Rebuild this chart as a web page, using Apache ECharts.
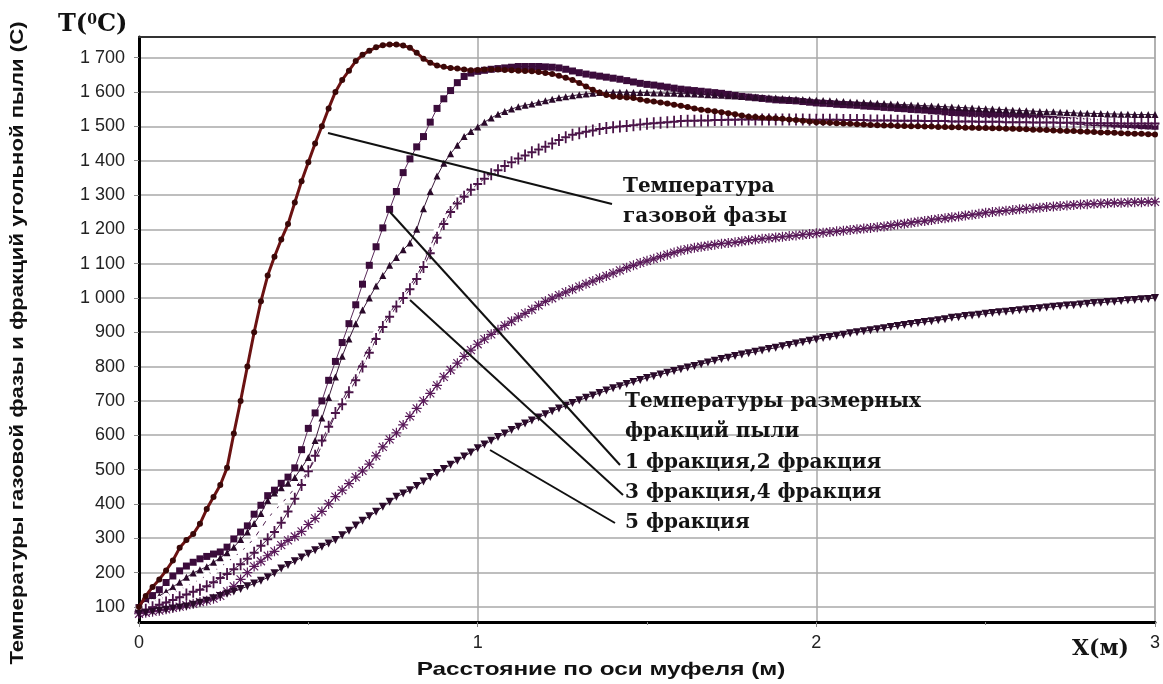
<!DOCTYPE html>
<html>
<head>
<meta charset="utf-8">
<script src="https://cdn.jsdelivr.net/npm/echarts@6/dist/echarts.min.js"></script>
<style>
html, body { margin: 0; padding: 0; background: #fff; }
#chart { width: 1163px; height: 684px; }
</style>
</head>
<body>
<div id="chart"></div>
<script>
// шаг по оси муфеля (м), точки от 0 до 3
var X_STEP = 0.02;
var xs = [];
for (var i = 0; i <= 150; i++) xs.push(+(i * X_STEP).toFixed(2));

var yTicks = [100, 200, 300, 400, 500, 600, 700, 800, 900, 1000, 1100, 1200, 1300, 1400, 1500, 1600, 1700];

// температура газовой фазы
var gasTemp = [
    100, 132, 158, 180, 206, 235, 272, 295, 312, 342,
    385, 420, 455, 505, 605, 700, 800, 900, 990, 1065,
    1120, 1170, 1215, 1278, 1340, 1395, 1450, 1500, 1552, 1600,
    1635, 1662, 1690, 1708, 1720, 1730, 1736, 1738, 1738, 1735,
    1729, 1714, 1697, 1685, 1677, 1673, 1670, 1668, 1665, 1663,
    1664, 1665, 1665, 1665, 1664, 1663, 1662, 1661, 1660, 1658,
    1655, 1652, 1647, 1641, 1635, 1626, 1616, 1606, 1598, 1591,
    1587, 1585, 1584, 1582, 1578, 1574, 1572, 1569, 1566, 1563,
    1560, 1556, 1552, 1548, 1546, 1544, 1541, 1538, 1535, 1531,
    1528, 1527, 1525, 1524, 1523, 1522, 1520, 1518, 1516, 1514,
    1512, 1511, 1510, 1509, 1508, 1507, 1506, 1505, 1504, 1503,
    1502, 1502, 1501, 1501, 1500, 1500, 1499, 1499, 1498, 1498,
    1497, 1497, 1496, 1496, 1495, 1495, 1494, 1494, 1493, 1493,
    1492, 1491, 1490, 1490, 1489, 1488, 1487, 1486, 1486, 1485,
    1484, 1483, 1482, 1482, 1481, 1480, 1479, 1478, 1478, 1477,
    1476
];
// фракция 1 (квадраты)
var frac1 = [
    98, 117, 133, 150, 171, 190, 205, 219, 230, 240,
    247, 254, 260, 274, 298, 318, 336, 370, 396, 424,
    440, 460, 478, 505, 558, 620, 665, 700, 760, 815,
    870, 925, 980, 1040, 1095, 1149, 1204, 1258, 1310, 1365,
    1405, 1440, 1470, 1512, 1552, 1580, 1604, 1627, 1645, 1655,
    1660, 1663, 1666, 1668, 1670, 1672, 1674, 1674, 1674, 1674,
    1673, 1672, 1670, 1666, 1661, 1656, 1652, 1649, 1646, 1643,
    1640, 1637, 1633, 1629, 1625, 1622, 1620, 1617, 1614, 1611,
    1608, 1606, 1604, 1602, 1600, 1598, 1596, 1593, 1590, 1587,
    1585, 1583, 1581, 1579, 1577, 1576, 1575, 1574, 1572, 1570,
    1568, 1567, 1566, 1564, 1563, 1562, 1561, 1559, 1558, 1557,
    1555, 1554, 1552, 1551, 1549, 1548, 1547, 1545, 1544, 1542,
    1540, 1539, 1538, 1536, 1535, 1534, 1532, 1531, 1530, 1528,
    1527, 1526, 1524, 1523, 1521, 1520, 1518, 1517, 1515, 1514,
    1512, 1511, 1510, 1509, 1507, 1506, 1505, 1504, 1502, 1501,
    1500
];
// фракция 2 (треугольники)
var frac2 = [
    95, 108, 120, 132, 144, 158, 172, 186, 199, 208,
    217, 230, 243, 258, 274, 296, 318, 343, 372, 410,
    432, 447, 460, 477, 505, 535, 585, 650, 710, 770,
    830, 880, 925, 965, 1000, 1035, 1065, 1095, 1118, 1140,
    1160, 1200, 1260, 1310, 1355, 1392, 1420, 1445, 1470, 1485,
    1498, 1512, 1524, 1535, 1543, 1550, 1557, 1561, 1565, 1570,
    1574, 1579, 1583, 1586, 1589, 1592, 1594, 1596, 1598, 1598,
    1599, 1599, 1599, 1598, 1598, 1598, 1597, 1597, 1596, 1596,
    1595, 1595, 1594, 1593, 1592, 1591, 1590, 1589, 1588, 1587,
    1586, 1585, 1584, 1583, 1582, 1581, 1580, 1579, 1578, 1577,
    1576, 1575, 1574, 1573, 1572, 1571, 1570, 1569, 1568, 1567,
    1566, 1565, 1564, 1563, 1562, 1561, 1560, 1559, 1558, 1557,
    1556, 1555, 1554, 1553, 1552, 1551, 1550, 1549, 1548, 1547,
    1546, 1545, 1544, 1543, 1542, 1542, 1541, 1540, 1539, 1538,
    1538, 1537, 1537, 1536, 1536, 1535, 1535, 1534, 1534, 1534,
    1534
];
// фракция 3 (кружки)
var frac3 = [
    95, 104, 113, 122, 131, 140, 150, 160, 170, 180,
    192, 204, 216, 230, 245, 260, 278, 300, 328, 358,
    380, 400, 422, 446, 470, 495, 530, 570, 615, 660,
    700, 740, 780, 820, 860, 895, 925, 955, 985, 1010,
    1035, 1065, 1100, 1150, 1195, 1235, 1268, 1290, 1310, 1326,
    1338, 1352, 1365, 1377, 1387, 1397, 1408, 1417, 1426, 1434,
    1441, 1451, 1461, 1469, 1476, 1481, 1485, 1489, 1493, 1496,
    1498, 1500, 1502, 1504, 1506, 1508, 1510, 1511, 1513, 1514,
    1516, 1517, 1517, 1518, 1518, 1519, 1519, 1520, 1520, 1521,
    1521, 1521, 1522, 1522, 1522, 1522, 1522, 1522, 1522, 1522,
    1522, 1522, 1521, 1521, 1521, 1521, 1521, 1521, 1520, 1520,
    1520, 1520, 1520, 1520, 1519, 1519, 1519, 1519, 1519, 1519,
    1518, 1518, 1518, 1518, 1518, 1517, 1517, 1517, 1517, 1517,
    1516, 1516, 1516, 1516, 1516, 1515, 1515, 1515, 1515, 1515,
    1514, 1514, 1514, 1514, 1514, 1513, 1513, 1513, 1513, 1513,
    1512
];
// фракция 4 (крестики)
var frac4 = [
    85, 92, 99, 106, 113, 120, 128, 136, 144, 150,
    160, 172, 184, 196, 210, 224, 240, 258, 278, 297,
    318, 345, 378, 415, 455, 495, 540, 585, 625, 665,
    690, 725, 760, 800, 840, 880, 915, 945, 975, 1000,
    1025, 1055, 1090, 1130, 1175, 1215, 1250, 1275, 1295, 1315,
    1332, 1347, 1360, 1372, 1384, 1395, 1406, 1415, 1424, 1432,
    1440, 1450, 1460, 1468, 1475, 1480, 1484, 1488, 1492, 1495,
    1497, 1499, 1501, 1503, 1505, 1507, 1509, 1510, 1512, 1513,
    1515, 1516, 1516, 1517, 1517, 1518, 1518, 1519, 1519, 1520,
    1520, 1520, 1520, 1520, 1520, 1520, 1520, 1520, 1520, 1519,
    1519, 1519, 1519, 1519, 1518, 1518, 1518, 1518, 1517, 1517,
    1517, 1517, 1516, 1516, 1516, 1516, 1515, 1515, 1515, 1515,
    1514, 1514, 1514, 1514, 1513, 1513, 1513, 1513, 1512, 1512,
    1512, 1512, 1511, 1511, 1511, 1511, 1510, 1510, 1510, 1510,
    1509, 1509, 1509, 1509, 1509, 1508, 1508, 1508, 1508, 1508,
    1508
];
// звездочки
var frac4b = [
    80, 83, 86, 89, 93, 97, 101, 105, 109, 114,
    118, 124, 132, 145, 160, 180, 200, 218, 233, 249,
    262, 280, 294, 305, 320, 340, 358, 378, 400, 421,
    440, 459, 478, 496, 516, 540, 566, 588, 607, 630,
    655, 678, 700, 722, 745, 770, 790, 810, 830, 848,
    865, 880, 894, 907, 920, 932, 944, 955, 966, 978,
    990, 999, 1008, 1017, 1025, 1033, 1041, 1049, 1057, 1064,
    1072, 1080, 1088, 1095, 1102, 1108, 1114, 1120, 1126, 1132,
    1138, 1142, 1146, 1149, 1152, 1155, 1158, 1160, 1162, 1165,
    1168, 1170, 1172, 1174, 1176, 1178, 1180, 1182, 1184, 1186,
    1188, 1190, 1192, 1194, 1196, 1198, 1200, 1202, 1204, 1206,
    1208, 1211, 1214, 1216, 1219, 1222, 1224, 1227, 1230, 1232,
    1235, 1237, 1240, 1242, 1245, 1248, 1250, 1252, 1254, 1256,
    1258, 1260, 1261, 1263, 1265, 1266, 1268, 1269, 1271, 1272,
    1273, 1274, 1275, 1276, 1277, 1277, 1278, 1279, 1279, 1280,
    1280
];
// фракция 5 (перевернутые треугольники)
var frac5 = [
    80, 83, 86, 89, 92, 95, 98, 101, 106, 112,
    118, 125, 132, 138, 145, 152, 160, 168, 176, 186,
    198, 212, 222, 233, 244, 255, 265, 275, 285, 295,
    309, 322, 337, 351, 364, 377, 392, 406, 421, 430,
    440, 452, 465, 478, 490, 502, 514, 526, 538, 550,
    562, 573, 584, 595, 605, 615, 625, 634, 643, 652,
    661, 670, 678, 686, 694, 702, 709, 716, 723, 730,
    737, 743, 749, 755, 761, 767, 772, 777, 782, 787,
    792, 797, 802, 807, 812, 817, 822, 826, 831, 835,
    839, 843, 847, 851, 855, 859, 863, 867, 871, 875,
    879, 883, 886, 890, 893, 897, 900, 903, 906, 909,
    912, 915, 918, 921, 924, 927, 930, 932, 935, 938,
    942, 944, 947, 949, 951, 954, 956, 958, 960, 962,
    964, 966, 968, 970, 972, 974, 976, 978, 979, 981,
    983, 985, 986, 988, 989, 991, 993, 994, 996, 997,
    1000
];

var PLUS = 'path://M4,0H6V5H10V7H6V12H4V7H0V5H4Z';
var STAR = 'path://M4.4,0H5.6V10H4.4Z M0,4.4H10V5.6H0Z M0.6,1.4L1.4,0.6L9.4,8.6L8.6,9.4Z M8.6,0.6L9.4,1.4L1.4,9.4L0.6,8.6Z';

var pairs = function (arr) {
    return xs.map(function (x, i) { return [x, arr[i]]; });
};
var fmtY = function (v) {
    if (v >= 1000) return Math.floor(v / 1000) + ' ' + String(v % 1000).padStart(3, '0');
    return String(v);
};

var lineSeries = function (name, arr, symbol, size, color, lineColor, lineWidth, extra) {
    var s = {
        name: name,
        type: 'line',
        data: pairs(arr),
        symbol: symbol,
        symbolSize: size,
        showAllSymbol: true,
        lineStyle: { color: lineColor, width: lineWidth },
        itemStyle: { color: color, borderColor: color, borderWidth: 0 },
        emphasis: { disabled: true },
        z: 3
    };
    for (var k in extra) s[k] = extra[k];
    return s;
};

var serif = '"DejaVu Serif", "Liberation Serif", serif';
var txt = function (text, left, cy, size) {
    return {
        type: 'text', x: left, y: cy, z: 50,
        style: { text: text, font: 'bold ' + (size || 20) + 'px ' + serif, fill: '#141414', textVerticalAlign: 'middle' }
    };
};
var seg = function (x1, y1, x2, y2) {
    return {
        type: 'line', z: 50,
        shape: { x1: x1, y1: y1, x2: x2, y2: y2 },
        style: { stroke: '#111', lineWidth: 2 }
    };
};

var chart = echarts.init(document.getElementById('chart'), null, { renderer: 'canvas' });
chart.setOption({
    animation: false,
    backgroundColor: '#fff',
    grid: { left: 139, right: 6, top: 37, bottom: 62, show: true, borderColor: '#9a9a9a', borderWidth: 1 },
    xAxis: [{
        type: 'value', min: 0, max: 3, interval: 1,
        axisLine: { show: true, onZero: false, lineStyle: { color: '#000', width: 3 } },
        axisTick: { show: true, length: 5, lineStyle: { color: '#888', width: 1 } },
        minorTick: { show: true, splitNumber: 2, length: 3, lineStyle: { color: '#888' } },
        axisLabel: { color: '#222', fontSize: 18, fontFamily: 'Liberation Sans, Arial', margin: 12 },
        splitLine: { show: true, lineStyle: { color: '#a8a8a8', width: 1.5 } }
    }, {
        type: 'value', min: 0, max: 3, position: 'top',
        axisLine: { show: true, onZero: false, lineStyle: { color: '#333', width: 2 } },
        axisTick: { show: false }, axisLabel: { show: false }, splitLine: { show: false }
    }],
    yAxis: {
        type: 'value', min: 56, max: 1760,
        axisLine: { show: true, onZero: false, lineStyle: { color: '#000', width: 3 } },
        axisTick: { show: true, length: 5, customValues: yTicks, lineStyle: { color: '#888' } },
        axisLabel: { color: '#222', fontSize: 18, fontFamily: 'Liberation Sans, Arial', margin: 14, customValues: yTicks, formatter: fmtY },
        splitLine: { show: true, lineStyle: { color: '#a8a8a8', width: 1.5 } }
    },
    series: [
        lineSeries('Газовая фаза', gasTemp, 'circle', 6, '#3a0808', '#6b1212', 3, { z: 4 }),
        lineSeries('Фракция 1', frac1, 'rect', 7, '#3b0c3b', '#5a2a5a', 1),
        lineSeries('Фракция 2', frac2, 'triangle', 7, '#2a0a2a', '#3a1a3a', 1),
        lineSeries('Фракция 3', frac3, 'emptyCircle', 5, '#4a1a4a', '#4a1a4a', 1, { itemStyle: { color: '#fff', borderColor: '#4a1a4a', borderWidth: 1.2 } }),
        lineSeries('Фракция 4', frac4, PLUS, [9, 12], '#4a1448', '#4a1448', 1),
        lineSeries('Фракция 4б', frac4b, STAR, 10, '#5a1a5a', '#5a1a5a', 1),
        lineSeries('Фракция 5', frac5, 'triangle', 8, '#2a0a2a', '#2a0a2a', 1, { symbolRotate: 180 })
    ],
    graphic: [
        {
            type: 'text', x: 18, y: 343, rotation: Math.PI / 2, scaleX: 1.23, z: 50,
            style: { text: 'Температуры газовой фазы и фракций угольной пыли (С)', font: 'bold 18px "Liberation Sans", Arial', fill: '#111', textAlign: 'center', textVerticalAlign: 'middle' }
        },
        {
            type: 'text', x: 601, y: 670, scaleX: 1.28, z: 50,
            style: { text: 'Расстояние по оси муфеля (м)', font: 'bold 19px "Liberation Sans", Arial', fill: '#111', textAlign: 'center', textVerticalAlign: 'middle' }
        },
        {
            type: 'text', x: 58, y: 25, z: 50,
            style: {
                text: '{a|T(}{s|0}{a|C)}',
                textVerticalAlign: 'middle',
                rich: {
                    a: { font: 'bold 24px ' + serif, fill: '#111' },
                    s: { font: 'bold 14px ' + serif, fill: '#111', verticalAlign: 'top', padding: [0, 0, 9, 0] }
                }
            }
        },
        txt('X(м)', 1072, 649, 22),
        txt('Температура', 623, 187),
        txt('газовой фазы', 623, 217),
        txt('Температуры размерных', 625, 402),
        txt('фракций пыли', 625, 432),
        txt('1 фракция,2 фракция', 625, 463),
        txt('3 фракция,4 фракция', 625, 493),
        txt('5 фракция', 625, 523),
        seg(328, 133, 612, 204),
        seg(390, 212, 620, 465),
        seg(410, 300, 623, 495),
        seg(490, 450, 615, 523)
    ]
});
</script>
</body>
</html>
